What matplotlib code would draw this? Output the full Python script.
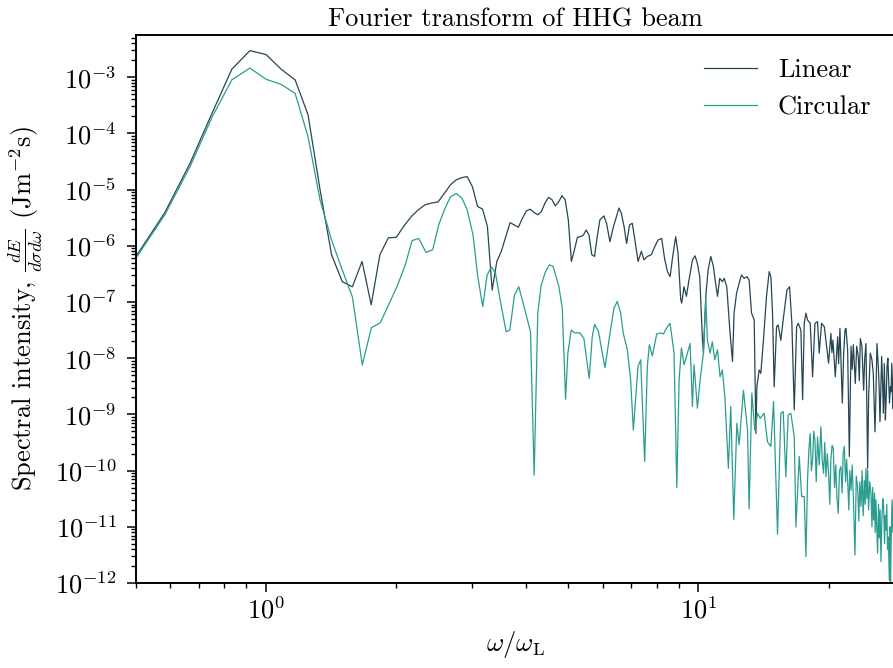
import numpy as np
import matplotlib.pyplot as plt
from matplotlib.ticker import LogLocator, NullFormatter

plt.rcParams['font.family'] = 'serif'
plt.rcParams['font.serif'] = ['cmr10']
plt.rcParams['mathtext.fontset'] = 'cm'
plt.rcParams['axes.formatter.use_mathtext'] = True
plt.rcParams['font.size'] = 19

# frequency axis (omega / omega_L) and log10 of the spectral intensity
omega_linear = [
    0.5, 0.583, 0.667, 0.75, 0.833, 0.917, 1.0, 1.083, 1.167, 1.25,
    1.333, 1.417, 1.5, 1.583, 1.667, 1.75, 1.833, 1.917, 2.0, 2.083,
    2.167, 2.25, 2.333, 2.417, 2.5, 2.583, 2.667, 2.75, 2.833, 2.917,
    3.0, 3.083, 3.167, 3.25, 3.333, 3.417, 3.5, 3.583, 3.667, 3.75,
    3.833, 3.917, 4.0, 4.083, 4.167, 4.25, 4.333, 4.417, 4.5, 4.583,
    4.667, 4.75, 4.833, 4.917, 5.0, 5.083, 5.167, 5.25, 5.333, 5.417,
    5.5, 5.583, 5.667, 5.75, 5.833, 5.917,
    6.045, 6.13, 6.24, 6.36, 6.55, 6.63, 6.73, 6.82, 6.93, 7.03,
    7.13, 7.25, 7.38, 7.48, 7.62, 7.78, 7.92, 8.06, 8.22, 8.36,
    8.48, 8.60, 8.72, 8.86, 8.97, 9.10, 9.15, 9.26, 9.38, 9.51,
    9.69, 9.82, 9.94, 10.07, 10.21, 10.27, 10.40, 10.53, 10.68, 10.83,
    10.93, 11.07, 11.20, 11.36, 11.47, 11.63, 11.82, 11.99, 12.09, 12.25,
    12.42, 12.58, 12.76, 12.94, 13.10, 13.27, 13.46, 13.58, 13.65, 13.82,
    13.94, 14.14, 14.37, 14.58, 14.71, 14.84, 14.97, 15.16, 15.29, 15.51,
    15.74, 16.02, 16.25, 16.45, 16.66, 16.87, 17.02, 17.26, 17.42, 17.57,
    17.73, 17.88, 18.14, 18.37, 18.60, 18.86, 19.03, 19.27, 19.55, 19.76,
    20.00, 20.25, 20.36, 20.47, 20.73, 20.99, 21.10, 21.25, 21.52, 21.68,
    21.83, 21.94, 22.14, 22.34, 22.54, 22.68, 22.82, 23.06, 23.23, 23.43,
    23.56, 23.69, 23.89, 24.11, 24.25, 24.41, 24.63, 24.76, 24.87, 24.98,
    25.20, 25.38, 25.61, 25.75, 25.88, 26.07, 26.18, 26.30, 26.54, 26.66,
    26.78, 26.92, 27.07, 27.19, 27.31, 27.43, 27.55, 27.67, 27.80, 27.90,
    28.00, 28.15, 28.30, 28.45, 28.6,
]
log_linear = [
    -6.19, -5.41, -4.53, -3.64, -2.86, -2.53, -2.60, -2.86, -3.05, -3.67,
    -5.01, -6.16, -6.64, -6.73, -6.28, -7.05, -6.16, -5.86, -5.85, -5.65,
    -5.48, -5.36, -5.27, -5.24, -5.22, -5.07, -4.92, -4.83, -4.79, -4.77,
    -4.95, -5.30, -5.35, -5.66, -6.79, -6.28, -6.10, -5.84, -5.59, -5.63,
    -5.67, -5.51, -5.38, -5.35, -5.41, -5.45, -5.39, -5.24, -5.14, -5.18,
    -5.29, -5.22, -5.11, -5.18, -5.54, -6.28, -6.07, -5.85, -5.84, -5.81,
    -5.72, -5.81, -6.16, -6.19, -5.84, -5.54,
    -5.47, -5.60, -5.93, -5.66, -5.33, -5.42, -5.66, -5.96, -5.63, -5.60,
    -5.90, -6.28, -6.10, -6.25, -6.19, -6.16, -6.02, -5.90, -5.87, -6.25,
    -6.46, -6.55, -6.19, -5.84, -6.13, -6.96, -7.02, -6.73, -6.90, -6.61,
    -6.25, -6.18, -6.31, -6.55, -7.62, -7.91, -6.90, -6.43, -6.19, -6.37,
    -6.61, -6.90, -6.58, -6.64, -6.58, -6.73, -7.50, -8.06, -7.20, -6.85,
    -6.67, -6.52, -6.58, -6.55, -6.61, -7.20, -7.32, -9.34, -8.51, -8.21,
    -8.27, -7.68, -6.90, -6.46, -6.55, -7.20, -8.51, -7.44, -7.41, -7.68,
    -7.26, -6.79, -6.73, -7.38, -8.92, -7.44, -7.38, -7.50, -8.74, -7.38,
    -7.20, -7.32, -7.38, -8.33, -7.38, -7.35, -7.91, -7.38, -7.44, -7.74,
    -8.09, -7.56, -7.90, -7.68, -8.33, -7.62, -8.10, -7.47, -8.80, -7.90,
    -7.50, -7.47, -7.85, -9.75, -7.79, -8.20, -7.76, -8.45, -7.79, -7.97,
    -8.40, -7.65, -7.79, -8.57, -8.00, -7.74, -9.96, -8.68, -8.30, -7.91,
    -8.03, -8.27, -9.31, -8.60, -7.74, -8.15, -8.50, -9.13, -7.97, -8.40,
    -8.98, -8.10, -9.10, -8.70, -8.15, -8.00, -8.39, -8.80, -8.51, -8.60,
    -8.09, -8.90, -8.03, -8.00, -8.20,
]

omega_circular = [
    0.5, 0.583, 0.667, 0.75, 0.833, 0.917, 1.0, 1.083, 1.167, 1.25,
    1.333, 1.417, 1.5, 1.583,
    1.669, 1.751, 1.837, 1.920, 2.007, 2.099, 2.175, 2.254, 2.344, 2.429,
    2.507, 2.585, 2.668, 2.755, 2.840, 2.917, 3.011, 3.087, 3.170, 3.245,
    3.321, 3.393, 3.483, 3.591, 3.662, 3.754, 3.841, 3.931, 4.088, 4.169,
    4.250, 4.328, 4.429, 4.524, 4.613, 4.756, 4.842, 4.928, 4.989, 5.079,
    5.170, 5.319, 5.433, 5.589, 5.680, 5.752, 5.87,
    6.079, 6.243, 6.377, 6.492, 6.608, 6.702, 6.847, 6.970, 7.070, 7.248,
    7.352, 7.511, 7.617, 7.700, 7.824, 8.008, 8.180, 8.298, 8.477, 8.598,
    8.783, 8.910, 9.022, 9.134, 9.265, 9.431, 9.566, 9.685, 9.770, 9.946,
    10.09, 10.27, 10.40, 10.49, 10.64, 10.77, 10.91, 11.07, 11.22, 11.36,
    11.51, 11.73, 11.88, 12.07, 12.27, 12.42, 12.71, 12.99, 13.10, 13.29,
    13.50, 13.70, 13.89, 14.19, 14.45, 14.71, 14.92, 15.24, 15.51, 15.71,
    15.93, 16.13, 16.36, 16.66, 16.81, 17.11, 17.33, 17.57, 17.73,
    17.88, 18.02, 18.14, 18.25, 18.37, 18.48, 18.60, 18.73, 18.86, 19.03,
    19.20, 19.33, 19.47, 19.60, 19.72, 19.86, 20.00, 20.13, 20.25, 20.38,
    20.51, 20.65, 20.78, 20.92, 21.06, 21.20, 21.36, 21.50, 21.62, 21.75,
    21.90, 22.02, 22.14, 22.28, 22.40, 22.54, 22.68, 22.85, 23.02, 23.18,
    23.35, 23.50, 23.62, 23.77, 23.90, 24.05, 24.19, 24.30, 24.41, 24.52,
    24.63, 24.75, 24.90, 25.07, 25.20, 25.30, 25.42, 25.55, 25.64, 25.74,
    25.85, 25.97, 26.10, 26.20, 26.32, 26.44, 26.56, 26.70, 26.82, 26.95,
    27.05, 27.15, 27.27, 27.38, 27.50, 27.64, 27.72, 27.80, 27.92, 28.04,
    28.17, 28.30, 28.45, 28.6,
]
log_circular = [
    -6.22, -5.45, -4.59, -3.71, -3.05, -2.84, -3.04, -3.13, -3.29, -4.06,
    -5.19, -5.90, -6.43, -6.91,
    -8.12, -7.46, -7.37, -7.05, -6.73, -6.34, -5.91, -5.87, -6.12, -6.07,
    -5.63, -5.36, -5.13, -5.07, -5.16, -5.36, -5.81, -6.55, -7.08, -6.52,
    -6.38, -6.49, -6.99, -7.53, -7.50, -6.88, -6.73, -7.02, -7.53, -10.08,
    -7.20, -6.70, -6.46, -6.34, -6.37, -6.73, -7.11, -8.73, -7.91, -7.50,
    -7.55, -7.55, -7.65, -8.36, -7.62, -7.40, -7.52,
    -8.17, -7.56, -7.11, -6.99, -7.20, -7.56, -7.85, -8.39, -9.28, -8.15,
    -8.03, -9.84, -8.15, -7.76, -7.96, -7.57, -7.55, -7.57, -7.44, -7.38,
    -7.91, -10.30, -8.39, -7.82, -8.12, -7.91, -7.74, -8.86, -8.12, -8.89,
    -8.39, -7.91, -6.93, -7.68, -7.91, -7.71, -8.03, -7.85, -8.33, -8.21,
    -8.68, -9.96, -8.86, -10.87, -9.16, -9.54, -8.57, -9.28, -10.68, -8.62,
    -9.28, -8.98, -9.07, -8.98, -9.49, -9.57, -8.77, -11.13, -8.98, -8.95,
    -10.11, -9.01, -8.98, -9.40, -11.0, -9.75, -10.46, -10.46, -11.53,
    -10.17, -9.60, -9.34, -10.00, -9.81, -9.30, -9.46, -10.20, -9.40, -9.90,
    -9.22, -9.80, -10.05, -9.50, -10.11, -9.70, -10.05, -10.60, -9.80, -9.55,
    -9.60, -10.30, -9.90, -10.50, -10.76, -10.00, -9.93, -10.40, -9.70, -9.57,
    -10.20, -9.80, -10.17, -10.70, -10.00, -10.35, -9.90, -10.60, -11.50, -10.10,
    -10.29, -10.90, -10.20, -10.64, -10.00, -10.80, -10.17, -10.60, -9.96, -10.50,
    -9.99, -10.70, -10.20, -10.40, -11.00, -10.30, -10.88, -10.40, -11.10, -10.52,
    -11.00, -11.47, -10.60, -11.20, -10.70, -11.62, -10.90, -10.50, -10.64, -11.30,
    -10.80, -11.06, -10.60, -11.40, -11.18, -11.95, -11.00, -12.30, -11.20, -10.52,
    -11.10, -10.43, -11.00, -10.60,
]

fig = plt.figure(figsize=(8.93, 6.68), dpi=100)
ax = fig.add_axes([0.1523, 0.1272, 0.8500, 0.8204])

ax.plot(omega_linear, 10.0 ** np.array(log_linear), color='#264653', lw=0.9, label='Linear')
ax.plot(omega_circular, 10.0 ** np.array(log_circular), color='#2a9d8f', lw=0.9, label='Circular')

ax.set_xscale('log')
ax.set_yscale('log')
ax.set_xlim(0.5, 28.5)
ax.set_ylim(1e-12, 5.6e-3)

ax.yaxis.set_major_locator(LogLocator(base=10, numticks=20))
ax.yaxis.set_minor_locator(LogLocator(base=10, subs=np.arange(2, 10), numticks=20))
ax.yaxis.set_minor_formatter(NullFormatter())
ax.xaxis.set_minor_formatter(NullFormatter())

for side in ax.spines.values():
    side.set_linewidth(1.4)
ax.tick_params(which='major', length=6.5, width=1.1)
ax.tick_params(which='minor', length=3.6, width=1.0)
ax.tick_params(axis='y', which='major', pad=7.5)

ax.set_title('Fourier transform of HHG beam', fontsize=19)
ax.set_xlabel(r'$\omega/\omega_{\mathrm{L}}$')
ax.set_ylabel(r'Spectral intensity, $\frac{dE}{d\sigma d\omega}$ (Jm$^{-2}$s)', labelpad=7)
ax.legend(loc='upper right', frameon=False)

fig.savefig('out.png', dpi=100)
